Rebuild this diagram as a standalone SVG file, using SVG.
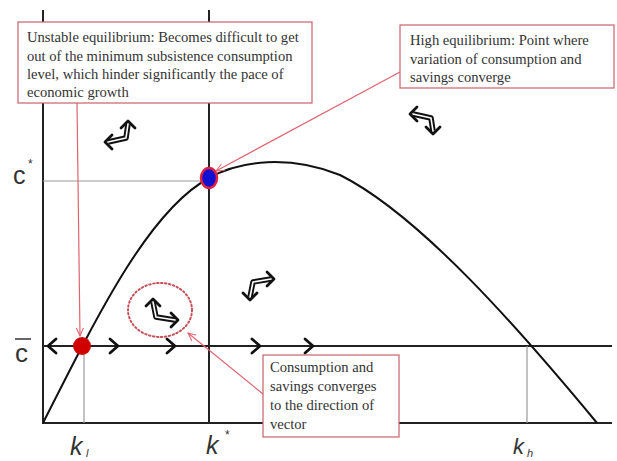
<svg xmlns="http://www.w3.org/2000/svg" width="617" height="461" viewBox="0 0 617 461">
<defs>
<style>
.ax{stroke:#222;stroke-width:2;fill:none}
.guide{stroke:#999;stroke-width:1.2;fill:none}
.curve{stroke:#111;stroke-width:2;fill:none}
.chev{stroke:#111;stroke-width:2.8;fill:none;stroke-linecap:round;stroke-linejoin:round}
.shaftO{stroke:#111;stroke-width:5.5;fill:none;stroke-linejoin:round}
.shaftI{stroke:#fff;stroke-width:1.6;fill:none;stroke-linejoin:round}
.box{fill:#fff;stroke:#c8606a;stroke-width:1.2}
.btxt{font-family:"Liberation Serif","Times New Roman",serif;font-size:14.6px;fill:#333}
.lbl{font-family:"Liberation Sans",Arial,sans-serif;fill:#333}
.conn{stroke:#e06470;stroke-width:1.2;fill:none}
</style>
<marker id="ah" viewBox="0 0 10 10" refX="9" refY="5" markerWidth="9" markerHeight="9" orient="auto" markerUnits="userSpaceOnUse">
<path d="M0,1 L9,5 L0,9" fill="none" stroke="#e06470" stroke-width="1.2"/>
</marker>
</defs>
<rect width="617" height="461" fill="#fff"/>

<g id="axes">
<line class="ax" x1="43" y1="10" x2="43" y2="424"/>
<line class="ax" x1="209" y1="10" x2="209" y2="424"/>
<line class="ax" x1="42" y1="423" x2="612" y2="423"/>
<line class="ax" x1="43" y1="346" x2="612" y2="346"/>
<line class="guide" x1="43" y1="181" x2="209" y2="181"/>
<line class="guide" x1="84" y1="346" x2="84" y2="423"/>
<line class="guide" x1="527" y1="346" x2="527" y2="423"/>
</g>

<g id="curve">
<path class="curve" d="M43,423 C100,310 150,210 209,178 C240,160 290,155 340,175 C420,215 520,330 597,423"/>
</g>

<g id="cbar-arrows">
<path class="chev" d="M56,339 L48,346 L56,353"/>
<path class="chev" d="M110,339 L118,346 L110,353"/>
<path class="chev" d="M167,339 L175,346 L167,353"/>
<path class="chev" d="M252,339 L260,346 L252,353"/>
<path class="chev" d="M305,339 L313,346 L305,353"/>
</g>

<g id="vectors">
<g id="v1">
<path class="shaftO" d="M108,142 L126,138 L128,124"/>
<path class="shaftI" d="M108,142 L126,138 L128,124"/>
<path class="chev" d="M112,135 L105,142 L112,149"/>
<path class="chev" d="M121,128 L128,121 L135,128"/>
</g>
<g id="v2">
<path class="shaftO" d="M413,114 L431,118 L433,131"/>
<path class="shaftI" d="M413,114 L431,118 L433,131"/>
<path class="chev" d="M417,107 L410,114 L417,121"/>
<path class="chev" d="M426,127 L433,134 L440,127"/>
</g>
<g id="v3">
<path class="shaftO" d="M271,279 L253,282 L250,297"/>
<path class="shaftI" d="M271,279 L253,282 L250,297"/>
<path class="chev" d="M267,272 L274,279 L267,286"/>
<path class="chev" d="M243,293 L250,300 L257,293"/>
</g>
<g id="v4">
<path class="shaftO" d="M153,302 L156,317 L175,320"/>
<path class="shaftI" d="M153,302 L156,317 L175,320"/>
<path class="chev" d="M146,306 L153,299 L160,306"/>
<path class="chev" d="M171,313 L178,320 L171,327"/>
</g>
</g>

<g id="circle">
<ellipse cx="160" cy="310" rx="32" ry="27" fill="none" stroke="#c8505a" stroke-width="2" stroke-dasharray="1.5 2.5" stroke-linecap="round"/>
</g>

<g id="connectors">
<line class="conn" x1="77" y1="103" x2="80" y2="336" marker-end="url(#ah)"/>
<line class="conn" x1="400" y1="72" x2="216" y2="171" marker-end="url(#ah)"/>
<line class="conn" x1="263" y1="394" x2="188" y2="333" marker-end="url(#ah)"/>
</g>

<g id="low-eq">
<circle cx="82" cy="346" r="9" fill="#d00000"/>
</g>
<g id="high-eq">
<ellipse cx="209" cy="178" rx="8" ry="10" fill="#1010d0" stroke="#e02040" stroke-width="2.5"/>
</g>

<g id="box-unstable">
<rect class="box" x="18" y="22" width="294" height="81"/>
<text class="btxt" x="27" y="42">Unstable equilibrium: Becomes difficult to get</text>
<text class="btxt" x="27" y="61">out of the minimum subsistence consumption</text>
<text class="btxt" x="27" y="79">level, which hinder significantly  the pace of</text>
<text class="btxt" x="27" y="97">economic growth</text>
</g>

<g id="box-high">
<rect class="box" x="400" y="25" width="214" height="63"/>
<text class="btxt" x="410" y="45">High equilibrium:  Point where</text>
<text class="btxt" x="410" y="64">variation  of consumption and</text>
<text class="btxt" x="410" y="82">savings converge</text>
</g>

<g id="box-converge">
<rect class="box" x="263" y="355" width="136" height="82"/>
<text class="btxt" x="270" y="372" font-size="15.2">Consumption and</text>
<text class="btxt" x="270" y="391" font-size="15.2">savings converges</text>
<text class="btxt" x="270" y="410" font-size="15.2">to the direction of</text>
<text class="btxt" x="270" y="429" font-size="15.2">vector</text>
</g>

<g id="labels">
<text class="lbl" x="13" y="184" font-size="25">c</text>
<text class="lbl" x="28" y="168" font-size="12">*</text>
<text class="lbl" x="15" y="362" font-size="26">c</text>
<line x1="15" y1="339" x2="31" y2="339" stroke="#333" stroke-width="1.5"/>
<text class="lbl" x="70" y="455" font-size="25" font-style="italic">k</text>
<text class="lbl" x="86" y="457" font-size="11" font-style="italic">l</text>
<text class="lbl" x="206" y="454" font-size="25" font-style="italic">k</text>
<text class="lbl" x="225" y="439" font-size="12">*</text>
<text class="lbl" x="513" y="454" font-size="22" font-style="italic">k</text>
<text class="lbl" x="527" y="457" font-size="11" font-style="italic">h</text>
</g>
</svg>
